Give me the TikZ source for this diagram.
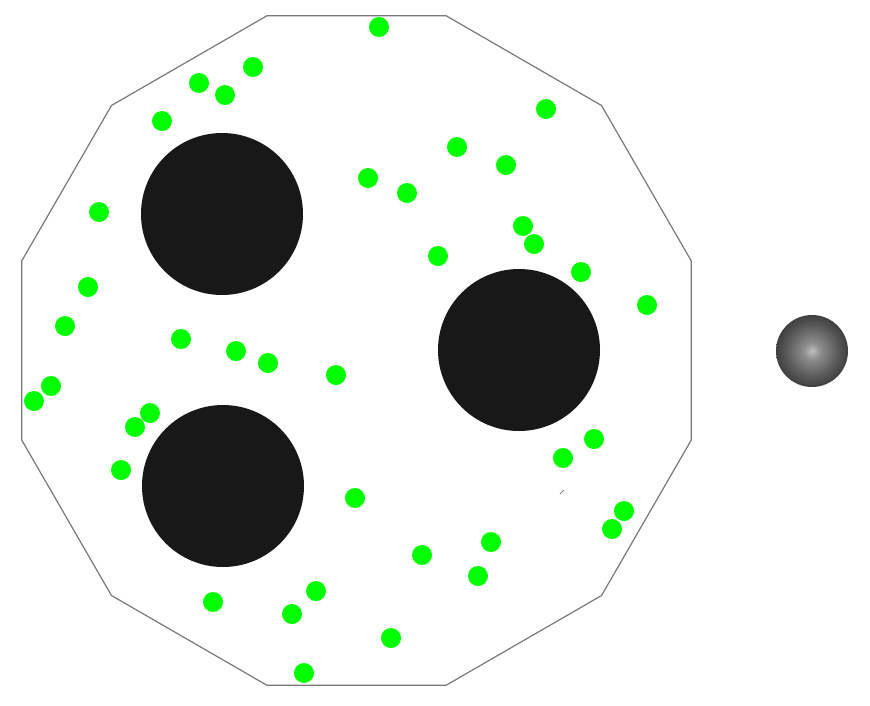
\documentclass[tikz,border=0pt]{standalone}
\usetikzlibrary{calc}
\pgfdeclareradialshading{sphere}{\pgfpoint{0bp}{0bp}}{%
  color(0bp)=(black!25);color(6bp)=(black!45);color(18bp)=(black!65);color(25bp)=(black!75);color(50bp)=(black!80)}
\begin{document}
\begin{tikzpicture}[x=1pt,y=-1pt,
  dot/.style={circle,fill={rgb,255:red,0;green,255;blue,0},inner sep=0pt,minimum size=20pt},
  hole/.style={circle,fill={rgb,255:red,24;green,24;blue,24},inner sep=0pt,minimum size=162pt},
  wall/.style={draw={rgb,255:red,120;green,120;blue,120},line width=1.2pt,line join=miter},
  ball/.style={circle,shading=sphere,inner sep=0pt,minimum size=72pt}]
\useasboundingbox (0,0) rectangle (870,705);
\coordinate (c) at (356.5,350.5);
\foreach \k in {0,...,11} {\coordinate (v\k) at ($(c)+({-(15+30*\k)}:346.5 and -346.5)$);}
\draw[wall] (v0) -- (v1) -- (v2) -- (v3) -- (v4) -- (v5) -- (v6) -- (v7) -- (v8) -- (v9) -- (v10) -- (v11) -- cycle;
\node[hole] (h1) at (222,214) {};
\node[hole] (h2) at (223,486) {};
\node[hole] (h3) at (519,350) {};
\node[ball] (s) at (812,351) {};
\coordinate (m1) at (560,494);
\coordinate (m2) at (564,490);
\draw[gray,line width=0.8pt] (m1) -- (m2);
\foreach \x/\y [count=\i] in {379/27,253/67,199/83,225/95,162/121,546/109,457/147,506/165,368/178,407/193,99/212,523/226,534/244,438/256,581/272,88/287,647/305,65/326,181/339,236/351,268/363,336/375,51/386,34/401,150/413,135/427,594/439,563/458,121/470,355/498,624/511,612/529,491/542,422/555,478/576,316/591,213/602,292/614,391/638,304/673}
  {\node[dot] (g\i) at (\x,\y) {};}
\end{tikzpicture}
\end{document}
